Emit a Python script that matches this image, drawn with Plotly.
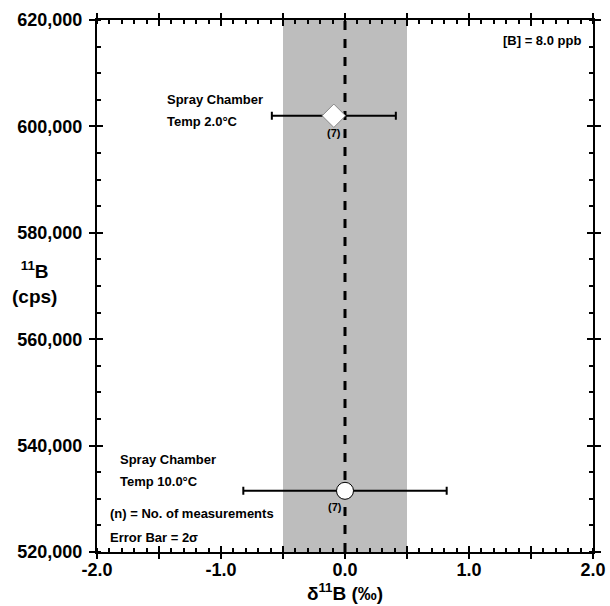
import plotly.graph_objects as go

# data
labels = ["Temp 2.0°C", "Temp 10.0°C"]
delta = [-0.09, 0.0]
err2s = [0.50, 0.82]
cps = [602000, 531500]
n_meas = [7, 7]
symbols = ["diamond", "circle"]
band = [-0.5, 0.5]
xlim = [-2, 2]
ylim = [520000, 620000]
xtickvals = [-2, -1, 0, 1, 2]
xticktext = ["-2.0", "-1.0", "0.0", "1.0", "2.0"]

FONT = "Liberation Sans, Arial, sans-serif"

fig = go.Figure()

# shaded band and dashed zero line (beneath markers)
fig.add_vrect(x0=band[0], x1=band[1], fillcolor="#bdbdbd", line_width=0, layer="below")
fig.add_vline(x=0, line=dict(color="black", width=3, dash="dash"), layer="below")

for i in range(2):
    fig.add_trace(go.Scatter(
        x=[delta[i]], y=[cps[i]], mode="markers",
        marker=dict(symbol=symbols[i], size=18 if i == 0 else 17, color="white",
                    line=dict(color="#888888" if i == 0 else "black", width=1)),
        error_x=dict(type="data", array=[err2s[i]], color="black", thickness=2, width=4),
        showlegend=False, xaxis="x", yaxis="y"))

# invisible traces on overlay axes so they render
fig.add_trace(go.Scatter(x=[None], y=[None], xaxis="x2", yaxis="y2", showlegend=False))
fig.add_trace(go.Scatter(x=[None], y=[None], xaxis="x3", yaxis="y3", showlegend=False))

ann = []
def txt(x, y, t, size=13, xanchor="left", xref="x", yref="y"):
    ann.append(dict(x=x, y=y, text="<b>" + t + "</b>", showarrow=False, xanchor=xanchor,
                    yanchor="middle", xref=xref, yref=yref,
                    font=dict(family=FONT, size=size, color="black")))

txt(-1.45, 605000, "Spray Chamber")
txt(-1.45, 601000, labels[0])
txt(delta[0], 598800, "(%d)" % n_meas[0], size=11, xanchor="center")
txt(-1.83, 537400, "Spray Chamber")
txt(-1.83, 533300, labels[1])
txt(delta[1] - 0.08, 528400, "(%d)" % n_meas[1], size=11, xanchor="center")
txt(-1.91, 527200, "(n) = No. of measurements")
txt(-1.91, 522800, "Error Bar = 2σ")
txt(1.92, 616100, "[B] = 8.0 ppb", xanchor="right")
ann.append(dict(x=-0.127, y=0.507, xref="paper", yref="paper", showarrow=False,
                xanchor="center", yanchor="middle",
                text="<b><sup>11</sup>B<br>(cps)</b>", align="center",
                font=dict(family=FONT, size=19, color="black")))

TF = dict(size=18, family=FONT, color="black", weight="bold")
axcommon = dict(showgrid=False, zeroline=False, tickcolor="black", tickwidth=2, automargin=False)
overlay = dict(showticklabels=False, showline=False, mirror="ticks", **axcommon)

fig.update_layout(
    width=610, height=606,
    margin=dict(l=97, r=17, t=20, b=54),
    plot_bgcolor="white", paper_bgcolor="white",
    font=dict(family=FONT, color="black"),
    annotations=ann,
    xaxis=dict(range=xlim, tickvals=xtickvals, ticktext=xticktext,
               ticks="outside", ticklen=0, mirror="ticks",
               showline=True, linecolor="black", linewidth=2,
               tickfont=TF,
               title=dict(text="<b>δ<sup>11</sup>B (‰)</b>", font=dict(size=19, family=FONT), standoff=7),
               minor=dict(dtick=0.1, tick0=-2, ticks="inside", ticklen=4, tickwidth=1.5, tickcolor="black"),
               **axcommon),
    yaxis=dict(range=ylim, dtick=20000, tickformat=",d",
               ticks="outside", ticklen=6, mirror="ticks",
               showline=True, linecolor="black", linewidth=2,
               tickfont=TF, ticklabelstandoff=3,
               minor=dict(dtick=5000, ticks="inside", ticklen=4, tickwidth=1.5, tickcolor="black"),
               **axcommon),
    xaxis2=dict(overlaying="x", range=xlim, dtick=0.5, tick0=-2, ticks="inside", ticklen=6,
                anchor="y2", **overlay),
    yaxis2=dict(overlaying="y", range=ylim, dtick=20000, ticks="inside", ticklen=6,
                anchor="x2", **overlay),
    xaxis3=dict(overlaying="x", range=xlim, dtick=0.5, tick0=-2, ticks="outside", ticklen=6,
                anchor="y3", **overlay),
    yaxis3=dict(overlaying="y", range=ylim, dtick=20000, ticks="outside", ticklen=6,
                anchor="x3", **overlay),
)

fig.write_html("out.html")
